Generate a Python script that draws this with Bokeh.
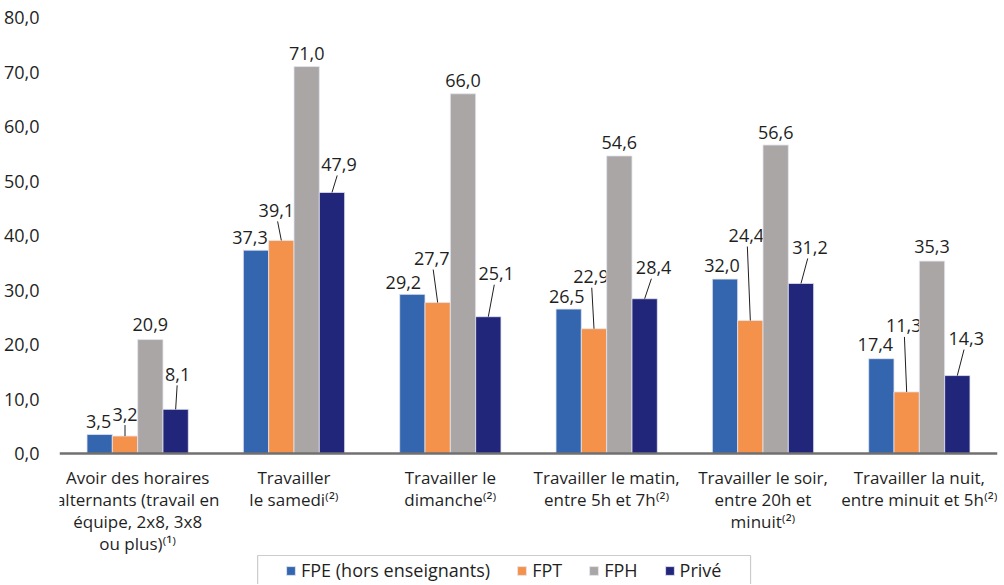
from bokeh.plotting import figure
from bokeh.models import (ColumnDataSource, FixedTicker, Range1d, Legend, LegendItem,
                          Span, BoxAnnotation)
from bokeh.core.properties import value
from bokeh.embed import file_html
from bokeh.resources import INLINE

categories = [
    "Avoir des horaires\nalternants (travail en\néquipe, 2x8, 3x8\nou plus)⁽¹⁾",
    "Travailler\nle samedi⁽²⁾",
    "Travailler le\ndimanche⁽²⁾",
    "Travailler le matin,\nentre 5h et 7h⁽²⁾",
    "Travailler le soir,\nentre 20h et\nminuit⁽²⁾",
    "Travailler la nuit,\nentre minuit et 5h⁽²⁾",
]
series_names = ["FPE (hors enseignants)", "FPT", "FPH", "Privé"]
fpe = [3.5, 37.3, 29.2, 26.5, 32.0, 17.4]
fpt = [3.2, 39.1, 27.7, 22.9, 24.4, 11.3]
fph = [20.9, 71.0, 66.0, 54.6, 56.6, 35.3]
prive = [8.1, 47.9, 25.1, 28.4, 31.2, 14.3]
y_ticks = [0, 10, 20, 30, 40, 50, 60, 70, 80]

colors = ["#3466B0", "#F4914A", "#A9A6A5", "#22267B"]
# label placement (pixels): horizontal shift and height of label centre above bar top
label_dx = [
    [-1, -6, -9, -2, -3, -6],
    [0, -5, -6, -3, -4, -3],
    [0, 0, 0, 0, 0, 0],
    [2, 7, 8, 9, 9, 9],
]
label_dy = [
    [13, 13, 12, 13, 14, 14],
    [22, 30, 44, 52, 85, 66],
    [15, 13, 13, 13, 13, 15],
    [35, 28, 43, 31, 36, 37],
]

FONT = "Open Sans"
TXT = "#1f1f1f"
W, H = 1000, 584
LEFT, RIGHT = 55, 3
PX_Y = 5.45    # px per value unit
TOP_PAD = 12
FRAME_H = H - TOP_PAD
BASE_Y = 453   # screen y of the zero line
Y_BELOW = H - BASE_Y
y0 = -Y_BELOW / PX_Y
y1 = (FRAME_H - Y_BELOW) / PX_Y
PX_X = (W - LEFT - RIGHT) / 6.0

p = figure(width=W, height=H, output_backend="svg", toolbar_location=None,
           x_range=Range1d(0, 6), y_range=Range1d(y0, y1),
           min_border_left=LEFT, min_border_right=RIGHT, min_border_top=TOP_PAD,
           min_border_bottom=0)
p.outline_line_color = None
p.grid.grid_line_color = None
p.xaxis.visible = False

bar_w = 0.162
offsets = [-1.5, -0.5, 0.5, 1.5]
all_vals = [fpe, fpt, fph, prive]
renderers = []
for s, vals in enumerate(all_vals):
    xs = [i + 0.5 + offsets[s] * bar_w for i in range(len(categories))]
    src = ColumnDataSource(dict(x=xs, top=vals,
                                lab=[f"{v:.1f}".replace(".", ",") for v in vals],
                                lx=[x + dx / PX_X for x, dx in zip(xs, label_dx[s])],
                                ly=[v + dy / PX_Y for v, dy in zip(vals, label_dy[s])]))
    r = p.vbar(x="x", top="top", width=bar_w, bottom=0, source=src,
               fill_color=colors[s], line_color="#e4e6f0", line_width=0.8)
    renderers.append(r)
    p.text(x="lx", y="ly", text="lab", source=src, text_align="center",
           text_baseline="middle", text_font=value(FONT), text_font_size="18px",
           text_color=TXT)
    sx0, sy0, sx1, sy1 = [], [], [], []
    for i, v in enumerate(vals):
        if label_dy[s][i] > 18:
            sx0.append(xs[i])
            sy0.append(v)
            sx1.append(xs[i] + 0.75 * label_dx[s][i] / PX_X)
            sy1.append(v + (label_dy[s][i] - 11) / PX_Y)
    if sx0:
        p.segment(x0=sx0, y0=sy0, x1=sx1, y1=sy1, line_color="#1f1f1f", line_width=1)

# baseline
p.add_layout(Span(location=0, dimension="width", line_color="#707070", line_width=2.5))

# category labels
cat_x = [i + 0.5 for i in range(len(categories))]
p.text(x=cat_x, y=[-12 / PX_Y] * len(categories), text=categories,
       text_align="center", text_baseline="top", text_font=value(FONT),
       text_font_size="17px", text_color=TXT, text_line_height=0.96)

# y axis
p.yaxis.ticker = FixedTicker(ticks=y_ticks)
p.yaxis.major_label_overrides = {t: f"{t:.1f}".replace(".", ",") for t in y_ticks}
p.yaxis.axis_line_color = None
p.yaxis.major_tick_line_color = None
p.yaxis.minor_tick_line_color = None
p.yaxis.major_label_standoff = 14
p.yaxis.major_label_text_font = FONT
p.yaxis.major_label_text_font_size = "18px"
p.yaxis.major_label_text_color = TXT

# legend (inside frame, bottom) with its own frame box
legend = Legend(items=[LegendItem(label=n, renderers=[r]) for n, r in zip(series_names, renderers)],
                orientation="horizontal", location=(226, 2))
legend.label_text_font = FONT
legend.label_text_font_size = "18px"
legend.label_text_color = TXT
legend.glyph_width = 11
legend.glyph_height = 11
legend.label_height = 18
legend.label_standoff = 5
legend.spacing = 26
legend.padding = 2
legend.margin = 0
legend.border_line_color = None
legend.background_fill_alpha = 0
p.add_layout(legend)

p.add_layout(BoxAnnotation(left=(254 - LEFT) / PX_X, right=(749 - LEFT) / PX_X,
                           top=-(555 - BASE_Y) / PX_Y, bottom=y0 - 5,
                           fill_alpha=0, line_color="#555555", line_width=1.2))

open("out.html", "w").write(file_html(p, INLINE))
